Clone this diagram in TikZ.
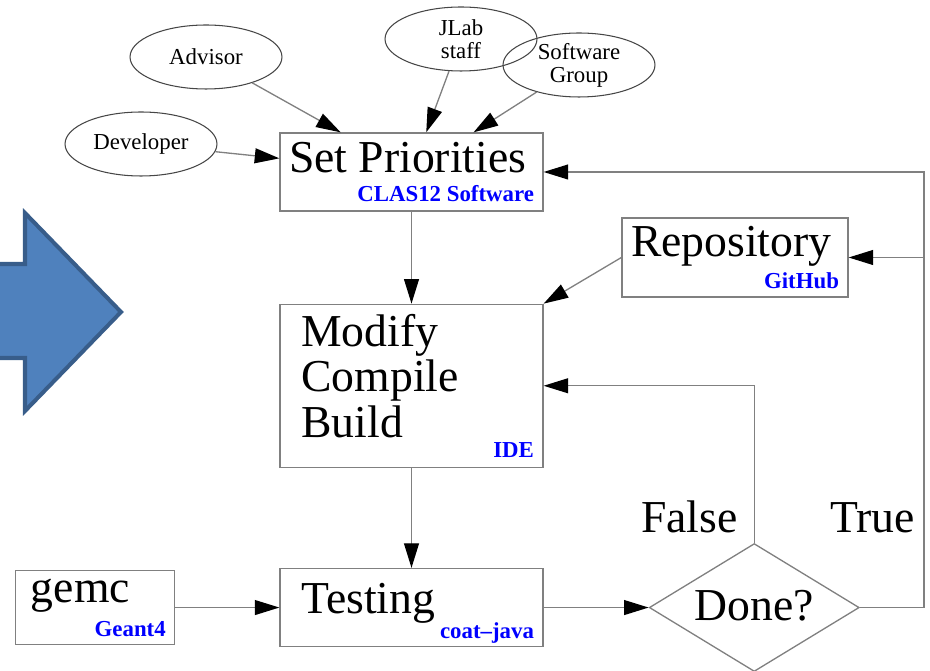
\documentclass[tikz,border=0pt]{standalone}
\usepackage{fontspec}
\setmainfont{Liberation Serif}
\usepackage{tikz}
\usetikzlibrary{positioning,arrows.meta,shapes.geometric}

\definecolor{linegray}{RGB}{128,128,128}
\definecolor{ovalgray}{RGB}{70,70,70}
\definecolor{arrowblue}{RGB}{79,129,189}
\definecolor{arrowedge}{RGB}{56,93,138}

% small bold blue tool name in the corner of a box
\newcommand{\toolname}[1]{{\fontsize{13}{13}\selectfont\bfseries\color{blue}#1}}

\begin{document}
\begin{tikzpicture}[
x=0.02cm, y=-0.02cm,
box/.style={draw=linegray, line width=0.75pt, inner xsep=0.18cm, inner ysep=0pt, align=flush left, font=\fontsize{26}{26}\selectfont},
indented/.style={execute at begin node={\leftskip=#1}},
who/.style={ellipse, draw=ovalgray, line width=0.6pt, inner sep=0pt, minimum width=3.04cm, minimum height=1.28cm, align=center, font=\fontsize{13}{13}\selectfont},
cond/.style={font=\fontsize{26}{26}\selectfont},
arrow/.style={-{Triangle[length=14pt, width=8.5pt, color=black]}, line width=0.75pt, linegray}
]
\useasboundingbox (0,0) rectangle (930,671);

% big arrow on the left
\begin{scope}
\clip (0,0) rectangle (930,671);
\filldraw[fill=arrowblue, draw=arrowedge, line width=2.3pt, line join=miter] (-20,264) -- (25,264) -- (25,213) -- (121,312) -- (25,411) -- (25,358) -- (-20,358) -- cycle;
\end{scope}

% main flow
\node[box, minimum width=5.26cm, text width=4.9cm, minimum height=1.56cm] (setprio) at (411.5,172) {Set~Priorities\\[-9pt]\hspace*{\fill}\toolname{CLAS12 Software}};
\node[box, indented=7pt, minimum width=5.26cm, text width=4.9cm, minimum height=3.26cm, below=1.84cm of setprio] (modify) {Modify\\Compile\\Build\\[-14.5pt]\hspace*{\fill}\toolname{IDE}};
\node[box, indented=7pt, minimum width=5.26cm, text width=4.9cm, minimum height=1.56cm, text height=24pt, below=2cm of modify] (testing) {Testing\\[-11.8pt]\hspace*{\fill}\toolname{coat--java}};
\node[box, indented=3.5pt, minimum width=3.18cm, text width=2.82cm, minimum height=1.48cm, text height=14pt, left=2.08cm of testing] (gemc) {gemc\\[-6.7pt]\hspace*{\fill}\toolname{Geant4}};
\node[box, minimum width=4.52cm, text width=4.16cm, minimum height=1.58cm] (repo) at (735,257.5) {Repository\\[-7.8pt]\hspace*{\fill}\toolname{GitHub}};
\node[diamond, draw=linegray, line width=0.75pt, inner sep=0pt, aspect=1.64, minimum width=4.2cm, minimum height=2.56cm, text depth=3pt, cond, right=2.1cm of testing] (done) {Done?};

% who feeds the priorities
\node[who] (advisor) at (206,57) {Advisor};
\node[who] (developer) at (141,144) {Developer};
\node[who] (jlab) at (461,39) {JLab\\staff};
\node[who] (swgroup) at (579,65) {Software\\Group};

\draw[arrow] (advisor) -- (setprio);
\draw[arrow] (developer) -- (setprio);
\draw[arrow] (jlab) -- (setprio);
\draw[arrow] (swgroup) -- (setprio);

\draw[arrow] (setprio) -- (modify);
\draw[arrow] (modify) -- (testing);
\draw[arrow] (gemc) -- (testing);
\draw[arrow] (testing) -- (done);
\draw[arrow] (repo.west) -- (modify.north east);

% loops back from the decision
\coordinate (rightrail) at (924,0);
\coordinate (trueturn) at (done.east -| rightrail);
\draw[arrow] (done.north) |- (modify.east);
\draw[arrow] (done.east) -- (trueturn) |- (setprio.east);
\draw[arrow] (trueturn |- repo.east) -- (repo.east);

\node[cond, inner sep=0pt, anchor=base east] (falselbl) at (738,533) {False};
\node[cond, inner sep=0pt, anchor=base west] (truelbl) at (830,533) {True};
\end{tikzpicture}
\end{document}
